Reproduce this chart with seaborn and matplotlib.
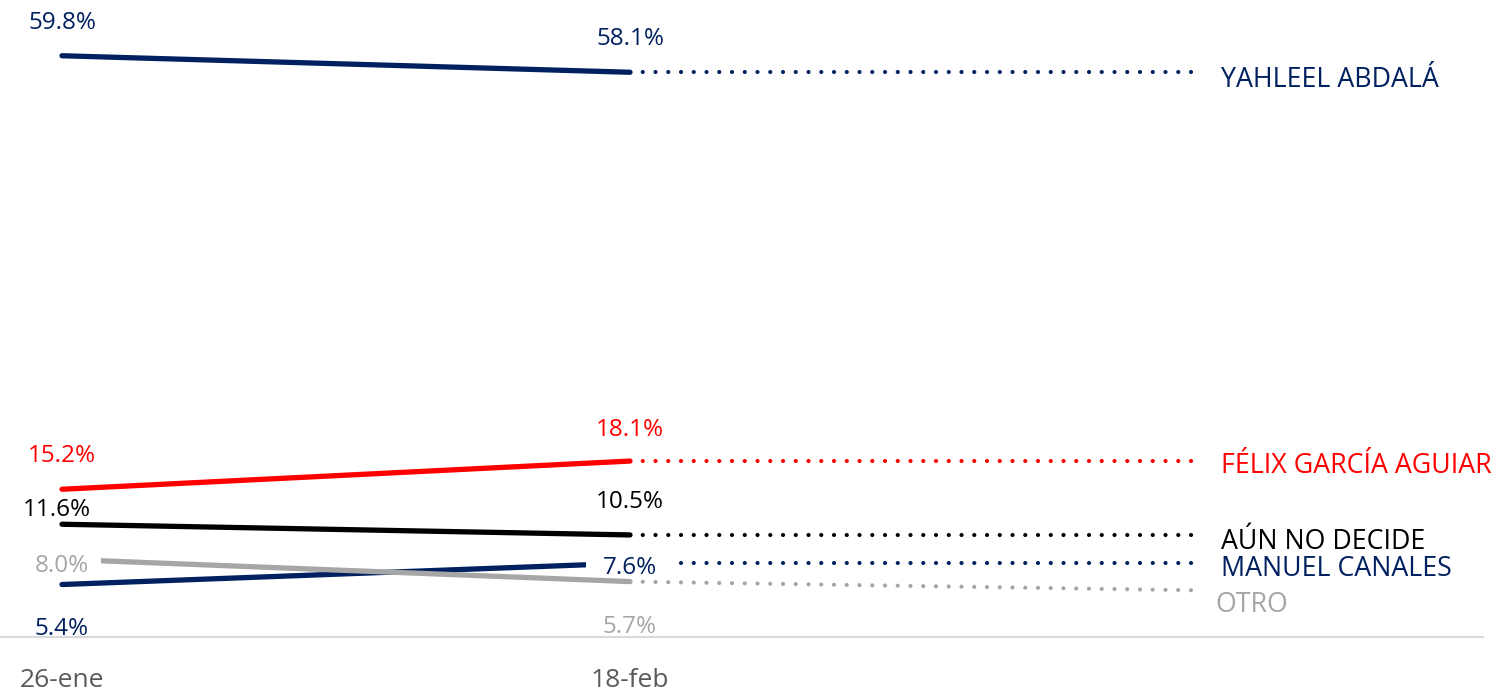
import numpy as np
import pandas as pd
import matplotlib
matplotlib.use("Agg")
import matplotlib.pyplot as plt
import seaborn as sns

#-------------------------------------------------------------------------------
#   data
#-------------------------------------------------------------------------------
fechas = ["26-ene", "18-feb"]
candidatos = ["YAHLEEL ABDALÁ", "FÉLIX GARCÍA AGUIAR", "AÚN NO DECIDE", "MANUEL CANALES", "OTRO"]
ene = [59.8, 15.2, 11.6, 5.4, 8.0]
feb = [58.1, 18.1, 10.5, 7.6, 5.7]
proyeccion = [58.1, 18.1, 10.5, 7.6, 4.8]   # end of the dotted lines
colores = ["#002060", "#FF0000", "#000000", "#002060", "#A6A6A6"]

# label offsets in pixels (dx, dy) relative to each point
off_ene = [(0, 33), (0, 33), (-5, 14), (0, -44), (0, -7)]
off_feb = [(0, 33), (0, 31), (0, 33), (0, -5), (0, -45)]
off_nombre = [(0, -8), (0, -5), (0, -7), (0, -6), (-6, -15)]
# white box behind label (only where the label sits on a line)
caja_ene = [False, False, False, False, True]
caja_feb = [False, False, False, True, False]
pad_caja = [0.5, 0.7]
# line zorders: manuel < label 7.6% < otro < label 8.0%
zorders = [5, 5, 5, 3, 5]
z_label = [6, 4]

#-------------------------------------------------------------------------------
#   figure
#-------------------------------------------------------------------------------
sns.set_theme(style="white")
plt.rcParams['font.family'] = ['Open Sans', 'DejaVu Sans']

fig = plt.figure(figsize=(15.04, 6.92), dpi=100)
ax = fig.add_axes([0, 55 / 692, 1483 / 1504, 637 / 692])

PX = 72 / 100  # points per pixel

df = pd.DataFrame({
    "candidato": np.repeat(candidatos, 2),
    "x": [0, 1] * len(candidatos),
    "valor": np.ravel(np.column_stack([ene, feb])),
})
dfp = pd.DataFrame({
    "candidato": np.repeat(candidatos, 2),
    "x": [1, 2] * len(candidatos),
    "valor": np.ravel(np.column_stack([feb, proyeccion])),
})

for i, c in enumerate(candidatos):
    sub = df[df.candidato == c]
    sns.lineplot(data=sub, x="x", y="valor", ax=ax, color=colores[i], lw=3.8,
                 solid_capstyle="round", zorder=zorders[i], legend=False)
    subp = dfp[dfp.candidato == c]
    sns.lineplot(data=subp, x="x", y="valor", ax=ax, color=colores[i], lw=3.0,
                 linestyle=(0, (0.01, 3.05)), dash_capstyle="round",
                 zorder=zorders[i], legend=False)

    for xv, v, off, caja in [(0, ene[i], off_ene[i], caja_ene[i]),
                             (1, feb[i], off_feb[i], caja_feb[i])]:
        kw = {}
        if caja:
            kw["bbox"] = dict(boxstyle=f"square,pad={pad_caja[xv]}", mutation_aspect=0.05,
                              fc="white", ec="none")
        ax.annotate(f"{v:.1f}%", (xv, v), xytext=(off[0] * PX, off[1] * PX),
                    textcoords="offset points", ha="center", va="center",
                    fontsize=17.5, color=colores[i], zorder=z_label[xv], **kw)

    ax.annotate(c, (2, proyeccion[i]), xytext=((23 + off_nombre[i][0]) * PX, off_nombre[i][1] * PX),
                textcoords="offset points", ha="left", va="center",
                fontsize=19.3, color=colores[i], zorder=10)

ax.set_xlim(-62 / 568, 1483 / 568 - 62 / 568)
ax.set_ylim(0, 637 / 9.72)
ax.set_xticks([0, 1])
ax.set_xticklabels(fechas, fontsize=19, color="#595959")
ax.tick_params(axis="x", length=0, pad=22)
ax.set_yticks([])
ax.set_xlabel("")
ax.set_ylabel("")
sns.despine(ax=ax, left=True)
ax.spines["bottom"].set_color("#D9D9D9")
ax.spines["bottom"].set_linewidth(1.5)

fig.savefig("out.png", dpi=100)
